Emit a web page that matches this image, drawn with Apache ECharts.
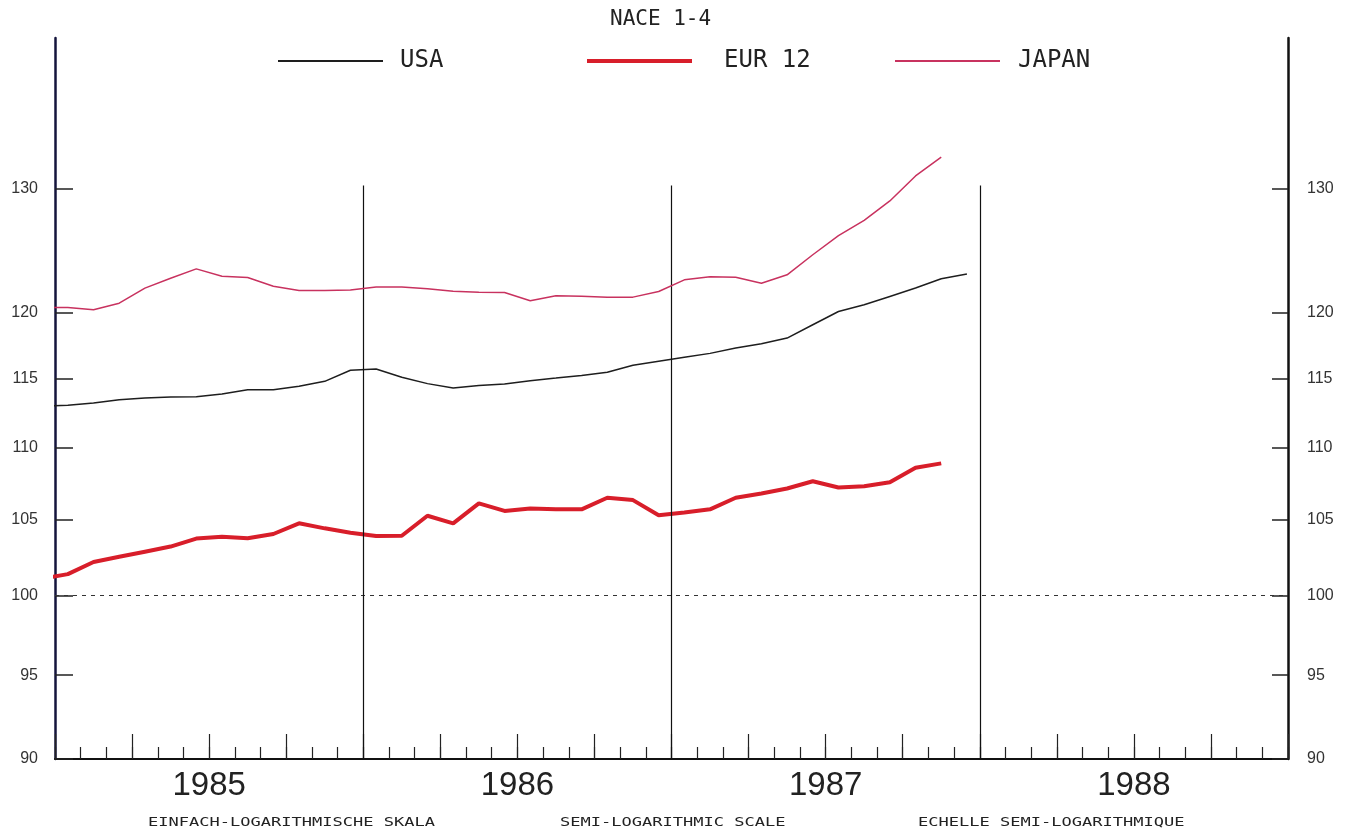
<!DOCTYPE html>
<html><head><meta charset="utf-8">
<script src="https://cdn.jsdelivr.net/npm/echarts@6/dist/echarts.min.js"></script>
<style>html,body{margin:0;padding:0;background:#fff}#c{width:1354px;height:836px}</style>
</head><body><div id="c"></div>
<script>
// ---- data ----
const chartTitle = 'NACE 1-4';
const seriesNames = ['USA', 'EUR 12', 'JAPAN'];
const yearLabels = ['1985', '1986', '1987', '1988'];
const yTickValues = [90, 95, 100, 105, 110, 115, 120, 130];
const yearBoundaries = [12, 24, 36];
const baseLevel = 100;
const scaleNotes = ['EINFACH-LOGARITHMISCHE SKALA', 'SEMI-LOGARITHMIC SCALE', 'ECHELLE SEMI-LOGARITHMIQUE'];
// month index of the first value (Dec 1984, clipped at the left axis)
const firstMonth = -1;
const usa = [113.0, 113.07, 113.23, 113.48, 113.6, 113.68, 113.7, 113.89, 114.2, 114.2, 114.46, 114.83, 115.65,
  115.75, 115.13, 114.66, 114.34, 114.53, 114.63, 114.88, 115.07, 115.27, 115.5, 116.02, 116.32,
  116.62, 116.92, 117.32, 117.65, 118.08, 119.1, 120.12, 120.64, 121.29, 121.95, 122.69, 123.06];
const eur12 = [101.1, 101.4, 102.2, 102.54, 102.88, 103.22, 103.75, 103.88, 103.77, 104.06, 104.78, 104.44, 104.14,
  103.92, 103.94, 105.29, 104.78, 106.14, 105.62, 105.79, 105.73, 105.73, 106.52, 106.36, 105.32,
  105.52, 105.73, 106.52, 106.82, 107.16, 107.66, 107.23, 107.32, 107.59, 108.6, 108.91];
const japan = [120.44, 120.44, 120.26, 120.77, 121.95, 122.73, 123.47, 122.88, 122.78, 122.1, 121.76, 121.76, 121.79,
  122.03, 122.03, 121.9, 121.7, 121.63, 121.6, 120.96, 121.35, 121.3, 121.24, 121.24, 121.68,
  122.6, 122.85, 122.8, 122.33, 123.0, 124.6, 126.15, 127.4, 129.0, 131.1, 132.7];

// ---- chart ----
const toPoints = arr => arr.map((v, i) => [firstMonth + i + 0.5, v]);
const ink = '#222';
const colors = ['#1e1e1e', '#d81e2a', '#c8325f'];
const widths = [1.5, 4, 1.5];
const labelFont = 'Liberation Sans, Arial, sans-serif';
const plotFont = 'DejaVu Sans Mono, monospace';

const chart = echarts.init(document.getElementById('c'), null, {renderer: 'canvas'});

const sepLines = yearBoundaries.map(m => [
  {coord: [m, 90], lineStyle: {type: 'solid', color: '#111', width: 1.2}},
  {coord: [m, 130.3]}
]);

const series = [usa, eur12, japan].map((arr, i) => ({
  name: seriesNames[i],
  type: 'line',
  data: toPoints(arr),
  showSymbol: false,
  symbol: 'none',
  xAxisIndex: 0, yAxisIndex: 0,
  lineStyle: {color: colors[i], width: widths[i]},
  itemStyle: {color: colors[i]},
  z: 3 + i,
  animation: false
}));
series[0].markLine = {
  silent: true, symbol: ['none', 'none'], animation: false,
  label: {show: false},
  data: [{yAxis: baseLevel, lineStyle: {type: [4, 5], color: '#333', width: 1}}].concat(sepLines)
};

const legendPads = [12, 27, 13];
const legendLefts = [278, 587, 895];
const legendHeights = [2, 4, 2];

chart.setOption({
  backgroundColor: '#fff',
  animation: false,
  title: {
    text: chartTitle, left: 610, top: 9, padding: 0,
    textStyle: {fontFamily: plotFont, fontSize: 21, fontWeight: 'normal', color: ink}
  },
  legend: seriesNames.map((n, i) => ({
    data: [n], left: legendLefts[i], top: 49, padding: 0,
    icon: 'rect', itemWidth: 105, itemHeight: legendHeights[i],
    selectedMode: false,
    textStyle: {fontFamily: plotFont, fontSize: 24, color: ink, padding: [0, 0, 0, legendPads[i]]}
  })),
  grid: {left: 55, right: 66, top: 38, bottom: 77, containLabel: false},
  xAxis: [
    {
      type: 'value', min: 0, max: 48, interval: 1, position: 'bottom',
      axisLine: {show: true, onZero: false, lineStyle: {color: '#111', width: 2}},
      axisTick: {show: true, inside: true, length: 12, lineStyle: {color: ink, width: 1.2}},
      axisLabel: {show: false}, splitLine: {show: false}
    },
    {
      type: 'value', min: 0, max: 48, interval: 3, position: 'bottom',
      axisLine: {show: false, onZero: false},
      axisTick: {show: true, inside: true, length: 25, lineStyle: {color: ink, width: 1.2}},
      axisLabel: {
        show: true, margin: 10, fontFamily: labelFont, fontSize: 33, color: ink,
        formatter: v => {
          const k = (v - 6) / 12;
          return Number.isInteger(k) && yearLabels[k] ? yearLabels[k] : '';
        }
      },
      splitLine: {show: false}
    }
  ],
  yAxis: [
    {
      type: 'log', logBase: 10, min: 90, max: 143.3, position: 'left',
      axisLine: {show: true, onZero: false, lineStyle: {color: '#14143c', width: 2.5}},
      axisTick: {show: true, inside: true, length: 18, customValues: yTickValues, lineStyle: {color: ink, width: 1.5}},
      axisLabel: {show: true, margin: 17, customValues: yTickValues, fontFamily: labelFont, fontSize: 16, color: '#333'},
      splitLine: {show: false}, minorTick: {show: false}
    },
    {
      type: 'log', logBase: 10, min: 90, max: 143.3, position: 'right',
      axisLine: {show: true, onZero: false, lineStyle: {color: '#111', width: 2.5}},
      axisTick: {show: true, inside: true, length: 16, customValues: yTickValues, lineStyle: {color: ink, width: 1.5}},
      axisLabel: {show: true, margin: 19, customValues: yTickValues, fontFamily: labelFont, fontSize: 16, color: '#333'},
      splitLine: {show: false}, minorTick: {show: false}
    }
  ],
  graphic: scaleNotes.map((t, i) => ({
    type: 'text', x: [148, 560, 918][i], y: 823, scaleX: 1.31,
    style: {text: t, font: '13px ' + plotFont, fill: ink, textAlign: 'left', textVerticalAlign: 'middle'}
  })),
  series: series
});
</script>
</body></html>
